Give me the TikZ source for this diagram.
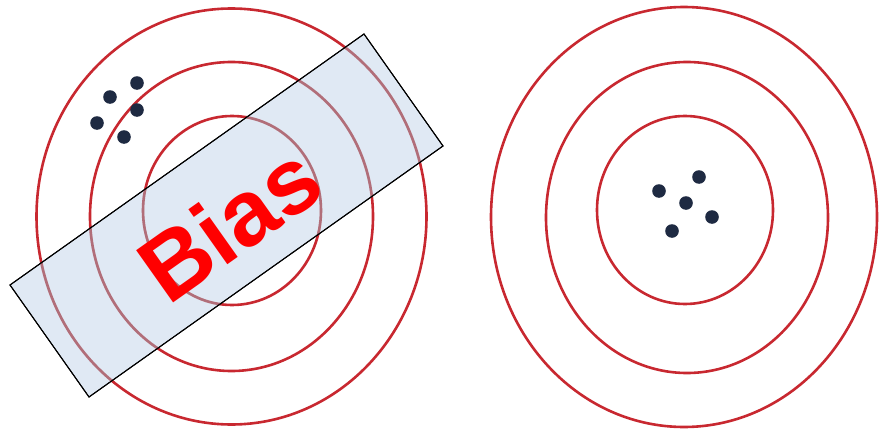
\documentclass[tikz,border=0pt]{standalone}
\usepackage{fontspec}
\setmainfont{Liberation Sans}
\definecolor{ringred}{RGB}{200,40,48}
\definecolor{ringdim}{RGB}{150,55,65}
\definecolor{shotblue}{RGB}{30,42,66}
\definecolor{bandfill}{RGB}{214,226,240}

\begin{document}
\begin{tikzpicture}[x=1pt,y=-1pt,line width=.5pt,
  ring/.style={draw=ringred,line width=2.6pt},
  shot/.style={fill=shotblue},
  band/.style={draw=black,line width=1pt,fill=bandfill,fill opacity=.75}]
\path[use as bounding box] (0,0) rectangle (879,431);
% left target, off centre
\draw[ring] (231.5,216.5) ellipse (195 and 208);
\draw[ring] (231.5,216.5) ellipse (141.5 and 154.5);
\draw[ring] (232,210.5) ellipse (89 and 94.5);
\fill[shot] (137,83) circle (6.8);
\fill[shot] (110,97) circle (6.8);
\fill[shot] (137,110) circle (6.8);
\fill[shot] (97,123) circle (6.8);
\fill[shot] (124,137) circle (6.8);
% right target, on centre
\draw[ring] (684,217) ellipse (193 and 210);
\draw[ring] (687,217.5) ellipse (141 and 155.5);
\draw[ring] (685,210) ellipse (88 and 94);
\fill[shot] (659,191) circle (6.8);
\fill[shot] (699,177) circle (6.8);
\fill[shot] (686,203) circle (6.8);
\fill[shot] (712,217) circle (6.8);
\fill[shot] (672,231) circle (6.8);
% tilted band with label
\draw[band] (10,285) -- (364,34) -- (443,146) -- (89,397) -- cycle;
\begin{scope}
\clip (10,285) -- (364,34) -- (443,146) -- (89,397) -- cycle;
\draw[ring,draw=ringdim,opacity=.55] (231.5,216.5) ellipse (195 and 208);
\draw[ring,draw=ringdim,opacity=.55] (231.5,216.5) ellipse (141.5 and 154.5);
\draw[ring,draw=ringdim,opacity=.55] (232,210.5) ellipse (89 and 94.5);
\end{scope}
\draw[line width=1pt] (10,285) -- (364,34) -- (443,146) -- (89,397) -- cycle;
\node (bias) [rotate=35.3,inner sep=0pt,text=red,font=\fontsize{93}{100}\selectfont\bfseries] at (229,223) {Bias};
\end{tikzpicture}
\end{document}
